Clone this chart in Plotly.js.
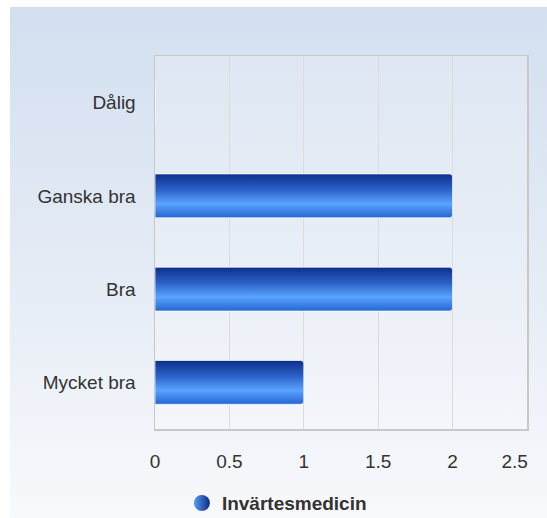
<!DOCTYPE html>
<html>
<head>
<meta charset="utf-8">
<script src="https://cdn.plot.ly/plotly-3.0.1.min.js"></script>
<style>
  html, body { margin: 0; padding: 0; background: #ffffff; width: 547px; height: 518px; overflow: hidden; }
  #wrap { position: absolute; left: 10px; top: 7px; width: 537px; height: 511px;
          background: linear-gradient(to bottom, #d3dff0 0%, #e4ebf5 50%, #f8f9fc 100%); }
  #chart { width: 537px; height: 511px; }
</style>
</head>
<body>
<svg width="0" height="0" style="position:absolute">
  <defs>
    <linearGradient id="barGrad" x1="0" y1="0" x2="0" y2="1">
      <stop offset="0%" stop-color="#0a2f8a"/>
      <stop offset="35%" stop-color="#2a60c6"/>
      <stop offset="68%" stop-color="#5aa3ff"/>
      <stop offset="100%" stop-color="#2366d2"/>
    </linearGradient>
  </defs>
</svg>
<div id="wrap"><div id="chart"></div></div>
<script>
const categories = ["Mycket bra", "Bra", "Ganska bra", "Dålig"];
const values = [1, 2, 2, 0];
const seriesName = "Invärtesmedicin";
const xTickVals = [0, 0.5, 1, 1.5, 2, 2.5];
const xTickText = ["0", "0.5", "1", "1.5", "2", "2.5"];

const fontFam = "Liberation Sans, Arial, sans-serif";
const fs = 19;

const traces = [
  {
    type: "bar",
    orientation: "h",
    y: categories,
    x: values,
    width: 0.47,
    showlegend: false,
    hoverinfo: "x+y",
    marker: { color: "#2a60c6", cornerradius: 3, line: { color: "rgba(255,255,255,0.7)", width: 1 } }
  },
  {
    type: "scatter",
    mode: "markers",
    x: [null],
    y: [null],
    name: seriesName,
    showlegend: true,
    marker: { symbol: "circle", size: 18, color: "#5a9cf5",
              gradient: { type: "horizontal", color: "#0a2a85" },
              line: { width: 0 } }
  }
];

const layout = {
  width: 537,
  height: 511,
  paper_bgcolor: "rgba(0,0,0,0)",
  plot_bgcolor: "rgba(255,255,255,0.2)",
  margin: { l: 145, r: 20, t: 49, b: 89, autoexpand: false },
  font: { family: fontFam, size: fs, color: "#333333" },
  xaxis: {
    range: [0, 2.5005],
    tickvals: xTickVals,
    ticktext: xTickText,
    showgrid: true,
    gridcolor: "#dcdcdc",
    gridwidth: 1,
    zeroline: false,
    showline: true,
    linecolor: "#c8c8c8",
    linewidth: 1.5,
    mirror: true,
    ticks: "",
    ticklabelstandoff: 15,
    ticklabeloverflow: "allow",
    tickfont: { family: fontFam, size: fs, color: "#333333" },
    fixedrange: true
  },
  yaxis: {
    type: "category",
    categoryorder: "array",
    categoryarray: categories,
    range: [-0.5, 3.5],
    showgrid: false,
    zeroline: false,
    showline: true,
    linecolor: "#c8c8c8",
    linewidth: 1.5,
    mirror: true,
    ticks: "",
    ticklabelstandoff: 14,
    tickfont: { family: fontFam, size: fs, color: "#333333" },
    fixedrange: true
  },
  legend: {
    orientation: "h",
    xref: "container",
    yref: "container",
    x: 0.497,
    xanchor: "center",
    y: 0.029,
    yanchor: "middle",
    bgcolor: "rgba(0,0,0,0)",
    font: { family: fontFam, size: fs, color: "#333333", weight: "bold" },
    itemsizing: "trace"
  },
  bargap: 0.5,
  showlegend: true
};

Plotly.newPlot("chart", traces, layout, { displayModeBar: false, responsive: false, staticPlot: true }).then(function (gd) {
  document.querySelectorAll("#chart .trace.bars .point path").forEach(function (p) {
    p.style.fill = "url(#barGrad)";
  });
  const xt = document.querySelectorAll("#chart .xtick text");
  if (xt.length) {
    const last = xt[xt.length - 1];
    last.setAttribute("text-anchor", "end");
    last.setAttribute("dx", "1");
  }
});
</script>
</body>
</html>
